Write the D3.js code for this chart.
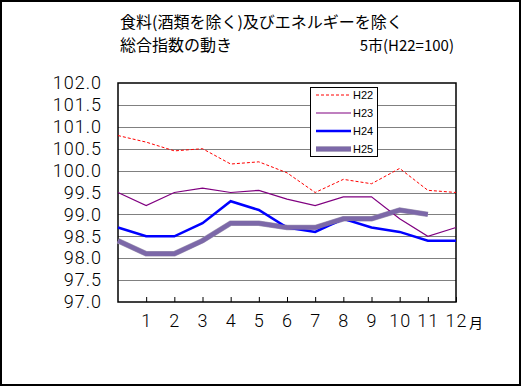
<!DOCTYPE html>
<html>
<head>
<meta charset="utf-8">
<script src="https://cdn.jsdelivr.net/npm/d3@7"></script>
<style>
  html, body { margin: 0; padding: 0; background: #fff; }
  svg { display: block; }
  text { font-family: "Noto Sans CJK JP", sans-serif; fill: #000; }
</style>
</head>
<body>
<svg id="chart" width="522" height="387"></svg>
<script>
// months 0..12 (0 = previous December)
const months = [0, 1, 2, 3, 4, 5, 6, 7, 8, 9, 10, 11, 12];
const h22 = [100.8, 100.65, 100.45, 100.5, 100.15, 100.2, 99.95, 99.5, 99.8, 99.7, 100.05, 99.55, 99.5];
const h23 = [99.5, 99.2, 99.5, 99.6, 99.5, 99.55, 99.35, 99.2, 99.4, 99.4, 98.9, 98.5, 98.7];
const h24 = [98.7, 98.5, 98.5, 98.8, 99.3, 99.1, 98.7, 98.6, 98.9, 98.7, 98.6, 98.4, 98.4];
const h25 = [98.4, 98.1, 98.1, 98.4, 98.8, 98.8, 98.7, 98.7, 98.9, 98.9, 99.1, 99.0];
const yTicks = [97, 97.5, 98, 98.5, 99, 99.5, 100, 100.5, 101, 101.5, 102];
const xTicks = [1, 2, 3, 4, 5, 6, 7, 8, 9, 10, 11, 12];
const seriesNames = ['H22', 'H23', 'H24', 'H25'];

const svg = d3.select('#chart');

const margin = { top: 83, left: 118, right: 456, bottom: 302 };

const x = d3.scaleLinear().domain([0, 12]).range([margin.left, margin.right]);
const y = d3.scaleLinear().domain([97, 102]).range([margin.bottom, margin.top]);

// outer border
svg.append('rect')
  .attr('x', 1).attr('y', 1)
  .attr('width', 519).attr('height', 384)
  .attr('fill', 'none')
  .attr('stroke', '#000')
  .attr('stroke-width', 2);

// title
svg.append('text')
  .attr('x', 120).attr('y', 28)
  .style('font-size', '16px')
  .text('食料(酒類を除く)及びエネルギーを除く');
svg.append('text')
  .attr('x', 120).attr('y', 51)
  .style('font-size', '16px')
  .text('総合指数の動き');
svg.append('text')
  .attr('x', 454).attr('y', 51)
  .attr('text-anchor', 'end')
  .style('font-size', '15px')
  .text('5市(H22=100)');

// gridlines
svg.append('g')
  .selectAll('line')
  .data(yTicks.filter(d => d > 97 && d < 102))
  .join('line')
  .attr('x1', margin.left).attr('x2', margin.right)
  .attr('y1', d => Math.round(y(d)) + 0.5)
  .attr('y2', d => Math.round(y(d)) + 0.5)
  .attr('stroke', '#808080')
  .attr('stroke-width', 1);

// y axis
const yAxis = d3.axisLeft(y)
  .tickValues(yTicks)
  .tickFormat(d3.format('.1f'))
  .tickSize(0)
  .tickPadding(16);
const gy = svg.append('g')
  .attr('transform', `translate(${ margin.left }, 0)`)
  .call(yAxis);
gy.select('.domain').remove();
gy.selectAll('text')
  .attr('fill', '#000')
  .style('font-family', 'Roboto, sans-serif')
  .style('font-size', '18px')
  .style('font-weight', '300')
  .style('letter-spacing', '1px');

// x axis (ticks point inward)
const xAxis = d3.axisBottom(x)
  .tickValues(xTicks)
  .tickSizeInner(-5)
  .tickSizeOuter(0)
  .tickPadding(12);
const gx = svg.append('g')
  .attr('transform', `translate(0, ${ margin.bottom })`)
  .call(xAxis);
gx.select('.domain').remove();
gx.selectAll('line').attr('stroke', '#000');
gx.selectAll('text')
  .attr('fill', '#000')
  .style('font-family', 'Roboto, sans-serif')
  .style('font-size', '18px')
  .style('font-weight', '300')
  .style('letter-spacing', '1px');
svg.append('text')
  .attr('x', x(12) + 13).attr('y', 328)
  .style('font-size', '14px')
  .text('月');

// plot frame
svg.append('rect')
  .attr('x', margin.left).attr('y', margin.top)
  .attr('width', margin.right - margin.left)
  .attr('height', margin.bottom - margin.top)
  .attr('fill', 'none')
  .attr('stroke', '#000')
  .attr('stroke-width', 1.5);

const line = d3.line()
  .x((d, i) => x(months[i]))
  .y(d => y(d));

const styles = [
  { data: h22, color: '#ff0000', width: 1, dash: '3,2' },
  { data: h23, color: '#800080', width: 1.2, dash: null },
  { data: h24, color: '#0000ff', width: 2.5, dash: null },
  { data: h25, color: '#7c68a8', width: 4.5, dash: null },
];

// H25 soft halo
svg.append('path')
  .attr('d', line(h25))
  .attr('fill', 'none')
  .attr('stroke', '#a8a0b8')
  .attr('stroke-width', 5.5);

styles.forEach(s => {
  svg.append('path')
    .attr('d', line(s.data))
    .attr('fill', 'none')
    .attr('stroke', s.color)
    .attr('stroke-width', s.width)
    .attr('stroke-dasharray', s.dash);
});

// legend
const legend = svg.append('g');
legend.append('rect')
  .attr('x', 310.5).attr('y', 87.5)
  .attr('width', 67).attr('height', 69)
  .attr('fill', '#fff')
  .attr('stroke', '#000')
  .attr('stroke-width', 1);

const rowY = d3.scalePoint().domain(seriesNames).range([95, 149]);
seriesNames.forEach((name, i) => {
  const s = styles[i];
  if (i === 3) {
    legend.append('line')
      .attr('x1', 316).attr('x2', 351)
      .attr('y1', rowY(name)).attr('y2', rowY(name))
      .attr('stroke', '#a8a0b8')
      .attr('stroke-width', 5.5);
  }
  legend.append('line')
    .attr('x1', 316).attr('x2', 351)
    .attr('y1', rowY(name)).attr('y2', rowY(name))
    .attr('stroke', s.color)
    .attr('stroke-width', s.width)
    .attr('stroke-dasharray', s.dash);
  legend.append('text')
    .attr('x', 353).attr('y', rowY(name) + 4)
    .style('font-family', '"Liberation Sans", Arial, sans-serif')
    .style('font-size', '11px')
    .text(name);
});
</script>
</body>
</html>
